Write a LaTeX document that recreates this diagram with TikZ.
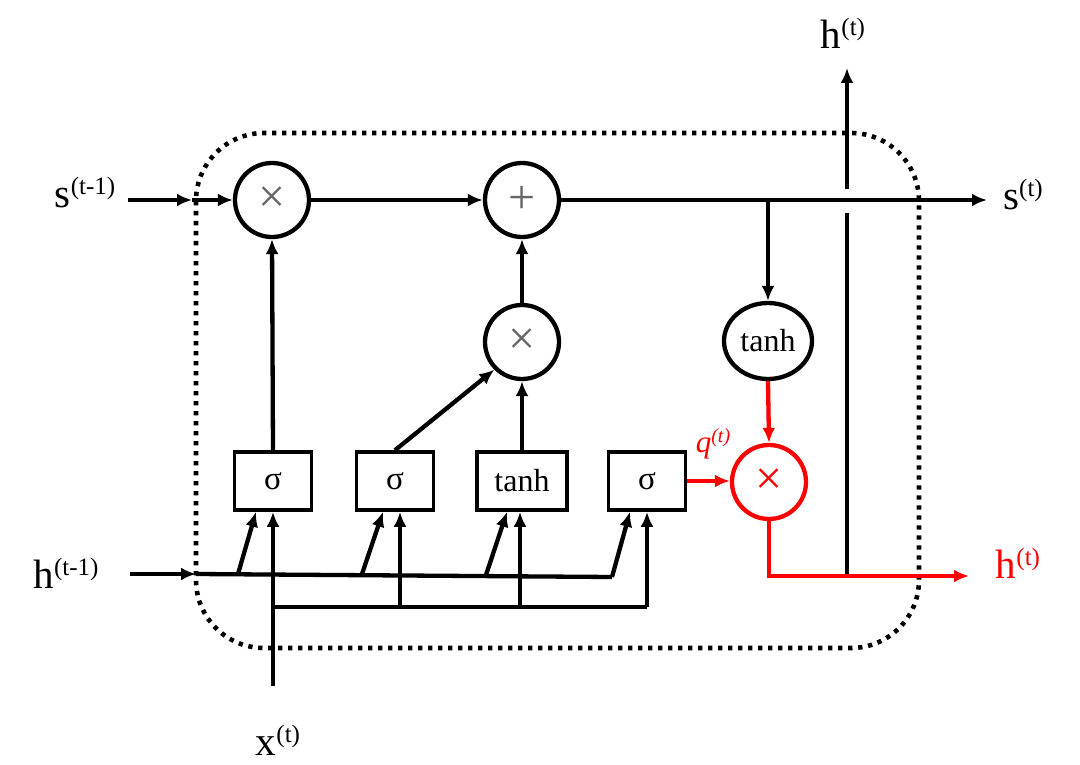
\documentclass[tikz,border=0pt]{standalone}
\usepackage{fontspec}
\setmainfont{Liberation Serif}
\usetikzlibrary{arrows.meta,shapes.geometric}
\newcommand{\lbl}[2]{{\fontsize{41}{41}\selectfont #1}\raisebox{13pt}{\fontsize{25}{25}\selectfont #2}}
\begin{document}
\begin{tikzpicture}[x=1pt,y=-1pt,
  wire/.style={line width=4.3pt},
  conn/.style={line width=4.3pt,-{Latex[length=15pt,width=13pt]}},
  op/.style={circle,draw,fill=white,line width=4.3pt,minimum size=74pt,inner sep=0pt,
    font=\fontsize{48}{48}\selectfont,text=black!60},
  gatebox/.style={rectangle,draw,fill=white,line width=3.6pt,minimum width=77pt,minimum height=58pt,
    inner sep=0pt,font=\fontsize{33}{33}\selectfont},
  lab/.style={inner sep=0pt},
  frame/.style={line width=4.6pt,dash pattern=on 4.3pt off 5.7pt,rounded corners=68pt}
]
\useasboundingbox (0,0) rectangle (1080,765);
% frame
\draw[frame] (196,133) rectangle (919,648);

% nodes
\node[op] (mul1) at (272,200) {×};
\node[op] (add) at (522,200) {+};
\node[op] (mul2) at (522,342) {×};
\node[ellipse,draw,fill=white,line width=4.3pt,minimum width=88pt,minimum height=76pt,inner sep=0pt,
  font=\fontsize{32}{32}\selectfont] (tanhc) at (768,341) {tanh};
\node[op,draw=red,text=red] (mul3) at (769,482) {×};

\node[gatebox] (g1) at (273,481) {σ};
\node[gatebox] (g2) at (395,481) {σ};
\node[gatebox,minimum width=90pt,font=\fontsize{32}{32}\selectfont] (g3) at (522,481) {tanh};
\node[gatebox] (g4) at (647,481) {σ};

% labels
\node[lab] (sprev) at (85,193) {\lbl{s}{(t-1)}};
\node[lab] (snext) at (1023,195) {\lbl{s}{(t)}};
\node[lab] (hprev) at (66,573) {\lbl{h}{(t-1)}};
\node[lab] (htop) at (843,33) {\lbl{h}{(t)}};
\node[lab,text=red] (hred) at (1018,563) {\lbl{h}{(t)}};
\node[lab] (xin) at (278,740) {\lbl{x}{(t)}};
\node[lab,text=red] (qlab) at (713,444) {\fontsize{31}{31}\selectfont\itshape q\raisebox{10pt}{\fontsize{20}{20}\selectfont (t)}};

% coordinates
\coordinate (sA) at (128,200);
\coordinate (sB) at (192,200);
\coordinate (sOut) at (987,200);
\coordinate (sT) at (768,200);
\coordinate (hA) at (130,574);
\coordinate (hB) at (196,574);
\coordinate (hEnd) at (612,577);
\coordinate (d1) at (238,574);
\coordinate (d2) at (362,574);
\coordinate (d3) at (486,575);
\coordinate (xA) at (273,686);
\coordinate (xJ) at (273,607);
\coordinate (xE) at (647,607);
\coordinate (x2) at (400,607);
\coordinate (x3) at (520,607);
\coordinate (rJ) at (769,576);
\coordinate (rOut) at (969,576);
\coordinate (vJ) at (847,576);
\coordinate (vLo) at (847,213);
\coordinate (vHi) at (847,189);
\coordinate (vOut) at (847,68);

% cell state line
\draw[conn] (sA) -- (sB);
\draw[conn] (sB) -- (mul1.west);
\draw[conn] (mul1.east) -- (add.west);
\draw[conn] (add.east) -- (sOut);
\draw[conn] (sT) -- (tanhc.north);
\draw[conn] (mul2.north) -- (add.south);
\draw[conn] (g1.north) -- (mul1.south);
\draw[conn] (g3.north) -- (mul2.south);
\draw[conn] (g2.north) -- (mul2.south west);

% h(t-1) input
\draw[conn] (hA) -- (hB);
\draw[wire] (hB) -- (hEnd);
\draw[conn] (d1) -- ([xshift=-17pt]g1.south);
\draw[conn] (d2) -- ([xshift=-12pt]g2.south);
\draw[conn] (d3) -- ([xshift=-15pt]g3.south);
\draw[conn] (hEnd) -- ([xshift=-17pt]g4.south);

% x(t) input
\draw[conn] (xA) -- (g1.south);
\draw[wire] (xJ) -- (xE);
\draw[conn] (x2) -- ([xshift=5pt]g2.south);
\draw[conn] (x3) -- ([xshift=-2pt]g3.south);
\draw[conn] (xE) -- (g4.south);

% output h(t) upward
\draw[wire] (vJ) -- (vLo);
\draw[conn] (vHi) -- (vOut);

% red output path
\draw[conn,red] (g4.east) -- (g4.east -| mul3.west);
\draw[conn,red] (tanhc.south) -- (mul3.north);
\draw[conn,red] (mul3.south) |- (rOut);
\end{tikzpicture}
\end{document}
